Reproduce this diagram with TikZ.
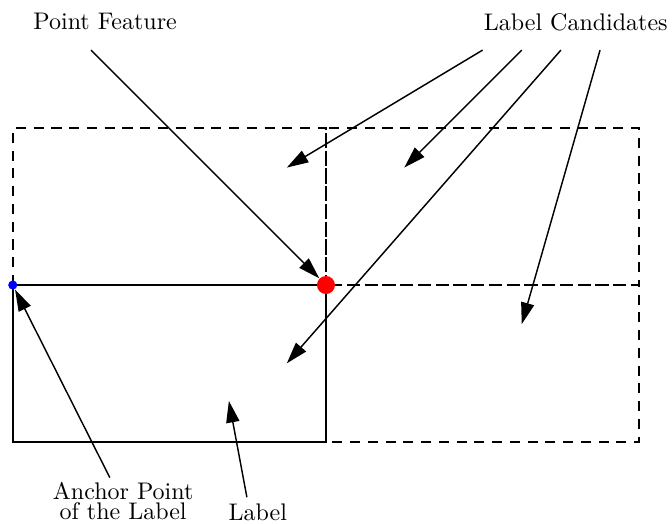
\documentclass[tikz,border=0pt]{standalone}
\usepackage{xcolor}
\usepackage{tikz}
\usetikzlibrary{
  arrows.meta,
  positioning,
  calc
}
\definecolor{featureRed}{HTML}{FF0000}
\definecolor{anchorBlue}{HTML}{0000FF}
\tikzset{
  txt/.style={inner sep=1pt, font=\normalsize},
  candidate box/.style={draw, thick, dash pattern=on 4.2pt off 3.2pt},
  label box/.style={draw, thick},
  feature dot/.style={circle, fill=featureRed, inner sep=0pt,
    minimum size=7.5pt},
  anchor dot/.style={circle, fill=anchorBlue, inner sep=0pt,
    minimum size=3.8pt},
  pointer/.style={-{Triangle[length=9pt,width=5.5pt]}, semithick},
}

\begin{document}
\begin{tikzpicture}[x=1.147cm, y=1.147cm]
    \useasboundingbox (-4.163,-3.040) rectangle (4.419,3.640);

    % Candidate positions
    \draw[candidate box] (-4,0) rectangle (0,2);
    \draw[candidate box] (0,0) rectangle (4,2);
    \draw[candidate box] (0,-2) rectangle (4,0);
    \draw[label box] (-4,-2) rectangle (0,0);

    % Nodes
    \node[feature dot] (feature) at (0,0) {};
    \node[anchor dot] (anchor) at (-4,0) {};
    \node[txt] (featureTxt) at (-2.82,3.36) {Point Feature};
    \node[txt] (candTxt) at (3.19,3.36) {Label Candidates};
    \node[txt, align=center] (anchorTxt) at (-2.59,-2.76)
      {Anchor Point\\[-3.6pt]of the Label};
    \node[txt] (labelTxt) at (-0.87,-2.90) {Label};

    % Arrow ends
    \coordinate (pf) at (-3,3);
    \coordinate (c1) at (2,3);
    \coordinate (c2) at (2.5,3);
    \coordinate (c3) at (3,3);
    \coordinate (c4) at (3.5,3);
    \coordinate (topLeft) at (-0.5,1.5);
    \coordinate (topRight) at (1,1.5);
    \coordinate (bottomLeft) at (-0.5,-1);
    \coordinate (bottomRight) at (2.5,-0.5);
    \coordinate (an) at (-2.76,-2.46);
    \coordinate (lb) at (-1.01,-2.71);
    \coordinate (lbEnd) at (-1.24,-1.48);

    % Arrows
    \draw[pointer] (pf) -- (feature);
    \draw[pointer] (c1) -- (topLeft);
    \draw[pointer] (c2) -- (topRight);
    \draw[pointer] (c3) -- (bottomLeft);
    \draw[pointer] (c4) -- (bottomRight);
    \draw[pointer] (an) -- (anchor);
    \draw[pointer] (lb) -- (lbEnd);
  \end{tikzpicture}
\end{document}
